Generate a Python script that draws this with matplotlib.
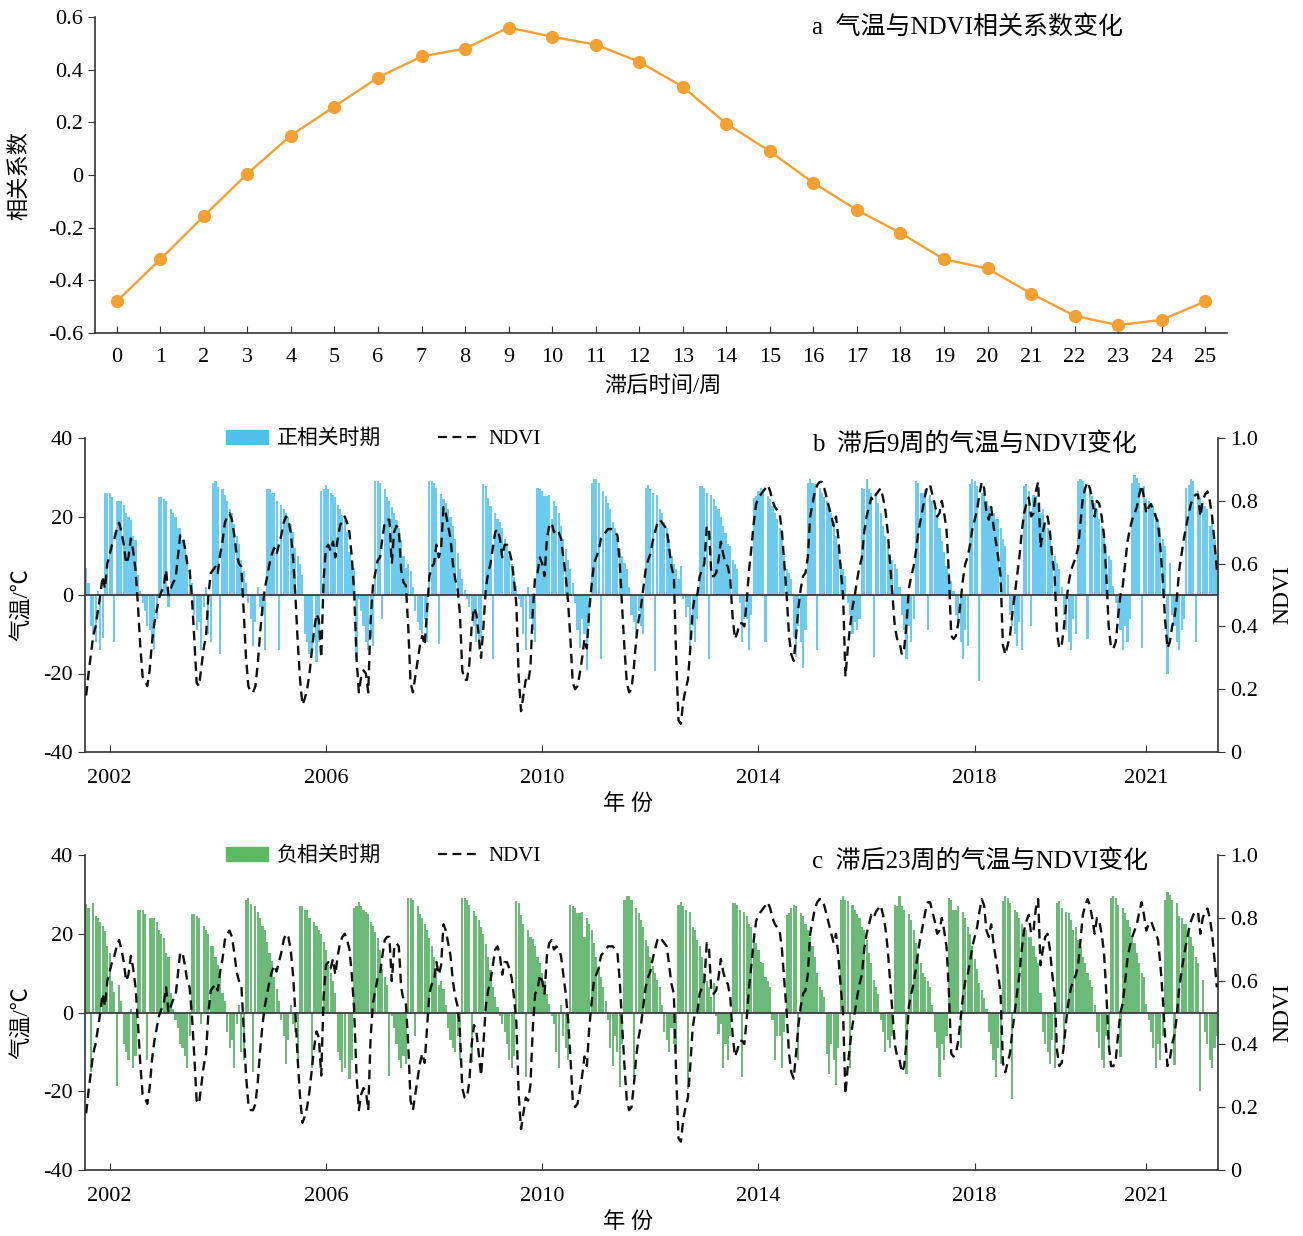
import numpy as np
import matplotlib
matplotlib.use('Agg')
import matplotlib.pyplot as plt
from matplotlib.patches import Patch
from matplotlib.lines import Line2D

plt.rcParams['font.family'] = ['Liberation Serif', 'Noto Sans CJK SC']
plt.rcParams['axes.unicode_minus'] = False

#%% panel a: correlation vs lag
lag_weeks = list(range(26))
corr = [-0.48, -0.32, -0.156, 0.005, 0.15, 0.26, 0.37, 0.45, 0.48, 0.56,
        0.525, 0.495, 0.43, 0.335, 0.195, 0.09, -0.03, -0.133, -0.22, -0.32,
        -0.355, -0.45, -0.535, -0.57, -0.55, -0.48]

#%% temperature, one list per warm/cold cycle (cycle starts at the jump)
temp_2001 = [27.5, 26.6, -15, 27.9, 24.5, 24, 23, 22, 20.8, 17, 15, 8, 5.3, -18.6,
             7, 3, -8, -10, -12, 1, -14, -11]
temp_2002 = [26, 26, 26, 25, -12, 24, 24, 24, 23, 21, 20, 19, 15, 14, 5, 1, -2, -4, -8, -9, -11, -14, -6]
temp_2003 = [25, 25, 24.5, 24, -3, 22, 21, 20, 17, 17, 14, 12, 10, 5, 3, -5, -9, -7, -14, -3, 2, -10, -12]
temp_2004 = [28.5, 29, 27.5, -15, 27, 25.5, 24, 22, 21, 18, 15, 13, 9, 6, 3, -2, -6, -13, -7, 2, -3, -5, -14]
temp_2005 = [27, 27, 26, 26, 24, -14, 23, 22, 21, 20, 18, 16, 12, 10, 8, 5, -10, -12, -15, -14, 0, -17, -12]
temp_2006 = [26.5, 27, 28, 27, 26, 25.5, 25, 23, 22, 20.5, 19, 16, 11, 9, 7, -16, -1, -4, -8, -12, -14, -11, -13]
temp_2007 = [29, 29, 28.5, -6, 27, 25, 24, 22.5, 21, 19, 17, 14, 10, 7, 8, 6, 2, -4, -7, -9, -10, -6, -12]
temp_2008 = [29, 29, 28.5, 27.3, -12.6, 25.8, 24.4, 23.5, 21.8, 20, 17.5, 14.2, 10.8, 6.5, 4, 1.4, -1, -3, -5, -8, -12, -14, -11]
temp_2009 = [28.2, 27.8, 24.8, 22.6, -16.4, 21, 19.3, 18.7, 17, 14.2, 12.5, 10, 8, 4.7, 2.2, -1, -3, -10, -14, 2, -6, -9, -12]
temp_2010 = [27.3, 27, 26.5, 25.2, 25.2, 25.6, 19.3, 24, 22.6, 21, 17.6, 14.2, 11.7, 9, 6.5, 3, -2, -9, -13.5, -6, -10, -19, -8]
temp_2011 = [28.6, 29.5, 29.5, 28.6, -16.4, 26.5, 25.2, 23.5, 21.8, 18.5, 17, 14.2, 11.7, 10, 8.2, 6.5, 2, -5, -7, -10, -4, -8, -10]
temp_2012 = [27.3, 28, 27, 26.1, -19.4, 25.5, 21.8, 21, 18.5, 17, 14.2, 10, 8, 6.5, 4, 7.4, -1, -5.5, -3, -14, -8, -12, -6]
temp_2013 = [27.8, 27.8, 27.3, 26, -16.4, 25.6, 24.4, 22.6, 21.8, 20, 17.6, 15.9, 12.9, 12.5, 9, 8, 6.5, -2, -12, -6, -6, -14, -5]
temp_2014 = [24.8, 25.2, 26.5, 27.3, 27, -12, 25.2, 24.4, 22.6, 21, 19.3, 17, 14.2, 10, 6.5, 5.7, 4, -10.6, -15.7, -8, -12, -18.5, -9]
temp_2015 = [28.6, 29.5, 28.6, 28.2, -14, 27.3, 26, 25, 24, 21.8, 21, 18.5, 15, 12.5, 8.2, 6.5, 4.8, -2, -5, -10, -7, -9, -6]
temp_2016 = [27.3, 27, 29.5, 27, 26, -15.7, 25, 23.5, 21, 17.6, 15, 12.5, 10, 9, 8, 6.5, 2, -5, -9, -16.4, -8, -12, -6]
temp_2017 = [29, 28.6, 26, 26, 27, -9, 25.6, 24, 21.8, 20, 17, 13.7, 11, 7.4, 5.7, 3.6, 1, -5, -8, -12, -16.4, -9, -13]
temp_2018 = [28.2, 29.5, 29, 27.8, -21.9, 26, 25.6, 24, 22.6, 21, 21, 19.3, 19.3, 17, 14.2, 12.5, 5, -5, -8, -10, -13, -7, -14]
temp_2019 = [27.8, 28.2, 26.5, -8, 25.6, 25.2, 23.5, 21, 21.8, 18.5, 17, 14.2, 12.5, 10, 8.2, 6.5, 2, -5, -9, -12, -14, -6, -10]
temp_2020 = [29, 29.5, 29, 27.3, -11.3, 26.5, 25.2, 23.5, 21.8, 19.3, 17.6, 15, 12.5, 10, 9, 2.2, -2, -5, -9, -14, -8, -12, -6]
temp_2021 = [28.6, 30.7, 29.9, 28.6, -13.4, 27.8, 24.4, 24, 22.6, 22.6, 21, 19.3, 17, 14.2, 12.5, -20, 8.2, -5, -8, -12, -14, -9, -6]
temp_2022 = [27.3, 28, 29.5, 29, -12, 26.5, 25, 22.6, 22.6, 21.8, 17.6, 19.3, 14, 10.3]

#%% NDVI, 23 composites per year
ndvi_2002 = [0.18, 0.25, 0.31, 0.37, 0.40, 0.45, 0.50, 0.56, 0.52, 0.60, 0.63, 0.66, 0.68, 0.71, 0.73, 0.70, 0.66, 0.60, 0.62, 0.68, 0.64, 0.58, 0.47]
ndvi_2003 = [0.34, 0.24, 0.23, 0.21, 0.26, 0.35, 0.41, 0.45, 0.49, 0.51, 0.53, 0.58, 0.50, 0.52, 0.54, 0.55, 0.62, 0.69, 0.69, 0.65, 0.60, 0.58, 0.49]
ndvi_2004 = [0.36, 0.22, 0.21, 0.27, 0.33, 0.37, 0.50, 0.57, 0.58, 0.59, 0.57, 0.63, 0.67, 0.73, 0.75, 0.76, 0.74, 0.69, 0.63, 0.60, 0.59, 0.45, 0.30]
ndvi_2005 = [0.21, 0.19, 0.19, 0.21, 0.28, 0.38, 0.46, 0.52, 0.56, 0.60, 0.63, 0.65, 0.63, 0.66, 0.69, 0.73, 0.75, 0.74, 0.70, 0.62, 0.50, 0.35, 0.23]
ndvi_2006 = [0.15, 0.17, 0.20, 0.25, 0.32, 0.39, 0.44, 0.42, 0.30, 0.55, 0.65, 0.66, 0.64, 0.67, 0.62, 0.68, 0.72, 0.74, 0.75, 0.73, 0.70, 0.62, 0.51]
ndvi_2007 = [0.30, 0.19, 0.24, 0.26, 0.25, 0.19, 0.42, 0.53, 0.57, 0.61, 0.62, 0.68, 0.73, 0.74, 0.74, 0.60, 0.70, 0.72, 0.71, 0.58, 0.54, 0.53, 0.40]
ndvi_2008 = [0.22, 0.19, 0.24, 0.29, 0.34, 0.37, 0.34, 0.45, 0.56, 0.59, 0.60, 0.66, 0.62, 0.65, 0.78, 0.76, 0.72, 0.68, 0.60, 0.55, 0.52, 0.44, 0.26]
ndvi_2009 = [0.23, 0.23, 0.28, 0.40, 0.46, 0.44, 0.37, 0.30, 0.40, 0.52, 0.57, 0.60, 0.65, 0.70, 0.71, 0.68, 0.62, 0.66, 0.66, 0.64, 0.61, 0.55, 0.47]
ndvi_2010 = [0.24, 0.13, 0.18, 0.23, 0.22, 0.27, 0.45, 0.56, 0.57, 0.62, 0.60, 0.56, 0.68, 0.72, 0.73, 0.70, 0.71, 0.70, 0.68, 0.62, 0.56, 0.48, 0.36]
ndvi_2011 = [0.22, 0.20, 0.21, 0.25, 0.30, 0.36, 0.33, 0.45, 0.53, 0.60, 0.62, 0.64, 0.68, 0.69, 0.70, 0.71, 0.71, 0.71, 0.70, 0.69, 0.60, 0.46, 0.33]
ndvi_2012 = [0.22, 0.19, 0.20, 0.27, 0.36, 0.42, 0.46, 0.52, 0.58, 0.61, 0.63, 0.67, 0.70, 0.73, 0.74, 0.73, 0.72, 0.71, 0.65, 0.59, 0.56, 0.30, 0.10]
ndvi_2013 = [0.09, 0.16, 0.20, 0.23, 0.33, 0.45, 0.50, 0.50, 0.56, 0.58, 0.60, 0.72, 0.70, 0.56, 0.56, 0.57, 0.61, 0.67, 0.63, 0.60, 0.59, 0.55, 0.43]
ndvi_2014 = [0.36, 0.38, 0.41, 0.41, 0.40, 0.48, 0.58, 0.65, 0.73, 0.79, 0.81, 0.82, 0.83, 0.84, 0.85, 0.83, 0.80, 0.78, 0.77, 0.76, 0.70, 0.60, 0.50]
ndvi_2015 = [0.37, 0.31, 0.29, 0.37, 0.46, 0.52, 0.56, 0.57, 0.62, 0.75, 0.79, 0.83, 0.85, 0.86, 0.86, 0.84, 0.81, 0.78, 0.75, 0.72, 0.75, 0.68, 0.58]
ndvi_2016 = [0.50, 0.24, 0.33, 0.40, 0.46, 0.50, 0.55, 0.59, 0.62, 0.70, 0.75, 0.78, 0.81, 0.80, 0.82, 0.83, 0.84, 0.81, 0.77, 0.70, 0.60, 0.50, 0.40]
ndvi_2017 = [0.36, 0.35, 0.31, 0.33, 0.41, 0.52, 0.56, 0.59, 0.64, 0.70, 0.74, 0.78, 0.82, 0.85, 0.85, 0.82, 0.79, 0.75, 0.76, 0.80, 0.76, 0.71, 0.57]
ndvi_2018 = [0.37, 0.36, 0.37, 0.41, 0.48, 0.55, 0.60, 0.62, 0.66, 0.71, 0.74, 0.77, 0.82, 0.86, 0.84, 0.76, 0.74, 0.78, 0.72, 0.67, 0.62, 0.56, 0.34]
ndvi_2019 = [0.31, 0.34, 0.37, 0.44, 0.50, 0.56, 0.62, 0.70, 0.76, 0.79, 0.81, 0.75, 0.76, 0.83, 0.86, 0.65, 0.70, 0.74, 0.75, 0.70, 0.62, 0.56, 0.38]
ndvi_2020 = [0.33, 0.34, 0.40, 0.48, 0.54, 0.58, 0.60, 0.62, 0.65, 0.73, 0.81, 0.84, 0.86, 0.84, 0.80, 0.75, 0.80, 0.79, 0.75, 0.69, 0.56, 0.40, 0.33]
ndvi_2021 = [0.33, 0.35, 0.43, 0.50, 0.53, 0.60, 0.67, 0.71, 0.74, 0.76, 0.78, 0.82, 0.85, 0.81, 0.76, 0.78, 0.79, 0.77, 0.75, 0.73, 0.65, 0.55, 0.42]
ndvi_2022 = [0.33, 0.35, 0.40, 0.43, 0.49, 0.58, 0.63, 0.68, 0.72, 0.76, 0.79, 0.81, 0.82, 0.82, 0.75, 0.80, 0.82, 0.83, 0.80, 0.75, 0.67, 0.58]

year_labels = ['2002', '2006', '2010', '2014', '2018', '2021']
year_ticks = [10, 102, 194, 286, 378, 451]

temp_all = np.concatenate([temp_2001, temp_2002, temp_2003, temp_2004, temp_2005, temp_2006,
                           temp_2007, temp_2008, temp_2009, temp_2010, temp_2011, temp_2012,
                           temp_2013, temp_2014, temp_2015, temp_2016, temp_2017, temp_2018,
                           temp_2019, temp_2020, temp_2021, temp_2022])
ndvi = np.concatenate([ndvi_2002, ndvi_2003, ndvi_2004, ndvi_2005, ndvi_2006, ndvi_2007,
                       ndvi_2008, ndvi_2009, ndvi_2010, ndvi_2011, ndvi_2012, ndvi_2013,
                       ndvi_2014, ndvi_2015, ndvi_2016, ndvi_2017, ndvi_2018, ndvi_2019,
                       ndvi_2020, ndvi_2021, ndvi_2022])
n = len(ndvi)
shift = 23 - 9
temp_lag9 = temp_all[shift:shift + n]
temp_lag23 = temp_all[:n]
idx = np.arange(n)

orange = '#f5a033'
blue = '#6ccbef'
blue_leg = '#4fc0ea'
green = '#6cba78'
green_leg = '#5cbb62'
axcol = '#333333'
W, H = 1303, 1236
TICK = 16

fig = plt.figure(figsize=(W / 100, H / 100), dpi=100)

#%% a
ax1 = fig.add_axes([95 / W, 1 - 333 / H, 1132 / W, 316 / H])
ax1.plot(lag_weeks, corr, color=orange, lw=1.7, marker='o', ms=8.5, mec=orange)
ax1.set_xlim(-0.5, 25.5)
ax1.set_ylim(-0.6, 0.6)
ax1.set_xticks(lag_weeks)
ax1.set_yticks([-0.6, -0.4, -0.2, 0, 0.2, 0.4, 0.6])
ax1.set_yticklabels(['-0.6', '-0.4', '-0.2', '0', '0.2', '0.4', '0.6'])
for s in ['top', 'right']:
    ax1.spines[s].set_visible(False)
for s in ['left', 'bottom']:
    ax1.spines[s].set_color(axcol)
    ax1.spines[s].set_linewidth(1.2)
ax1.tick_params(axis='x', direction='in', length=5, labelsize=TICK, pad=11, color=axcol)
ax1.tick_params(axis='y', direction='out', length=5, labelsize=TICK, color=axcol)
ax1.text((812 - 95) / 1132, (333 - 27) / 316, 'a  气温与NDVI相关系数变化', fontsize=18,
         ha='left', va='center', transform=ax1.transAxes)
fig.text(20 / W, 1 - 175 / H, '相关系数', rotation=90, ha='center', va='center', fontsize=16)
fig.text(663 / W, 1 - 386 / H, '滞后时间/周', ha='center', va='center', fontsize=16)


def ts_panel(top, bottom, temps, color, leg_color, leg_name, title):
    ax = fig.add_axes([85 / W, 1 - bottom / H, 1133 / W, (bottom - top) / H])
    ax.bar(idx, temps, width=0.9, color=color, linewidth=0, zorder=2)
    ax.axhline(0, color='#3c3c3c', lw=1.3, zorder=3)
    ax.set_xlim(-0.5, n - 0.5)
    ax.set_ylim(-40, 40)
    ax.set_yticks([-40, -20, 0, 20, 40])
    ax.set_xticks(year_ticks)
    ax.set_xticklabels(year_labels)
    ax.spines['top'].set_visible(False)
    ax.spines['right'].set_visible(False)
    for s in ['left', 'bottom']:
        ax.spines[s].set_color(axcol)
        ax.spines[s].set_linewidth(1.2)
    ax.tick_params(axis='x', direction='in', length=5, labelsize=TICK, pad=12, color=axcol)
    ax.tick_params(axis='y', direction='out', length=5, labelsize=TICK, color=axcol)

    ax2 = ax.twinx()
    ax2.plot(idx, ndvi, color='#111111', lw=1.7, ls=(0, (4, 2.5)), zorder=4)
    ax2.set_ylim(0, 1.0)
    ax2.set_yticks([0, 0.2, 0.4, 0.6, 0.8, 1.0])
    ax2.set_yticklabels(['0', '0.2', '0.4', '0.6', '0.8', '1.0'])
    for s in ['top', 'left', 'bottom']:
        ax2.spines[s].set_visible(False)
    ax2.spines['right'].set_color(axcol)
    ax2.spines['right'].set_linewidth(1.2)
    ax2.tick_params(axis='y', direction='out', length=5, labelsize=TICK, color=axcol)

    handles = [Patch(color=leg_color, label=leg_name),
               Line2D([0], [0], color='#111111', lw=1.6, ls=(0, (4, 2.5)), label='NDVI')]
    ax.legend(handles=handles, ncol=2, frameon=False, loc='upper left',
              bbox_to_anchor=((226 - 85) / 1133, 1.027), borderaxespad=0, borderpad=0,
              handlelength=2.0, handleheight=0.6, handletextpad=0.45, columnspacing=2.7,
              prop={'size': 15})
    ax.text((812 - 85) / 1133, 0.983, title, fontsize=18, ha='left', va='center',
            transform=ax.transAxes)
    mid = (top + bottom) / 2
    fig.text(22 / W, 1 - (mid + 10) / H, '气温/℃', rotation=90, ha='center', va='center', fontsize=16)
    fig.text(1283 / W, 1 - mid / H, 'NDVI', rotation=90, ha='center', va='center', fontsize=17)
    fig.text(628 / W, 1 - (bottom + 53) / H, '年 份', ha='center', va='center', fontsize=16)
    return ax


ts_panel(438, 752, temp_lag9, blue, blue_leg, '正相关时期', 'b  滞后9周的气温与NDVI变化')
ts_panel(855, 1170, temp_lag23, green, green_leg, '负相关时期', 'c  滞后23周的气温与NDVI变化')

fig.savefig('out.png', dpi=100)
